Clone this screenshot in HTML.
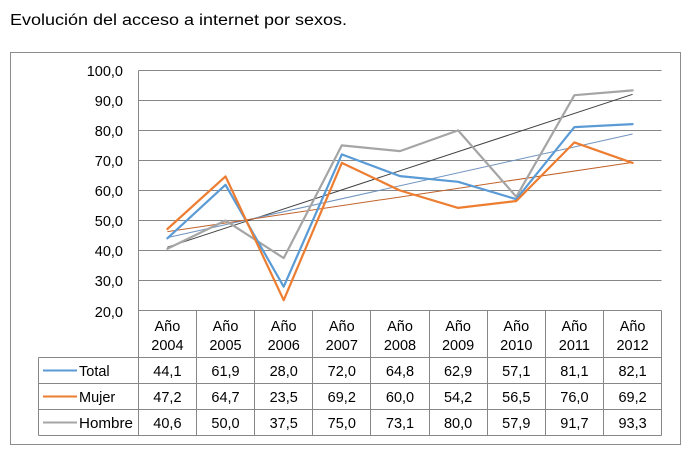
<!DOCTYPE html>
<html><head><meta charset="utf-8"><style>
html,body{margin:0;padding:0;background:#fff;}
svg{display:block;}
text{font-family:"Liberation Sans",sans-serif;fill:#000;}
</style></head><body>
<svg width="689" height="459" viewBox="0 0 689 459" xmlns="http://www.w3.org/2000/svg">
<rect x="0" y="0" width="689" height="459" fill="#fff"/>
<text x="10" y="25" font-size="15.5" textLength="337" lengthAdjust="spacingAndGlyphs">Evolución del acceso a internet por sexos.</text>
<rect x="10.5" y="52.5" width="670" height="392" fill="none" stroke="#8c8c8c" stroke-width="1"/>
<g stroke="#878787" stroke-width="1" fill="none">
<line x1="138.5" y1="70.5" x2="661.5" y2="70.5"/>
<line x1="138.5" y1="100.5" x2="661.5" y2="100.5"/>
<line x1="138.5" y1="130.5" x2="661.5" y2="130.5"/>
<line x1="138.5" y1="160.5" x2="661.5" y2="160.5"/>
<line x1="138.5" y1="190.5" x2="661.5" y2="190.5"/>
<line x1="138.5" y1="220.5" x2="661.5" y2="220.5"/>
<line x1="138.5" y1="250.5" x2="661.5" y2="250.5"/>
<line x1="138.5" y1="280.5" x2="661.5" y2="280.5"/>
<line x1="138.5" y1="310.5" x2="661.5" y2="310.5"/>
<line x1="138.5" y1="70.5" x2="138.5" y2="435.5"/>
<line x1="38.5" y1="357.5" x2="661.5" y2="357.5"/>
<line x1="38.5" y1="383.5" x2="661.5" y2="383.5"/>
<line x1="38.5" y1="409.5" x2="661.5" y2="409.5"/>
<line x1="38.5" y1="435.5" x2="661.5" y2="435.5"/>
<line x1="38.5" y1="357.5" x2="38.5" y2="435.5"/>
<line x1="196.5" y1="310.5" x2="196.5" y2="435.5"/>
<line x1="254.5" y1="310.5" x2="254.5" y2="435.5"/>
<line x1="312.5" y1="310.5" x2="312.5" y2="435.5"/>
<line x1="370.5" y1="310.5" x2="370.5" y2="435.5"/>
<line x1="429.5" y1="310.5" x2="429.5" y2="435.5"/>
<line x1="487.5" y1="310.5" x2="487.5" y2="435.5"/>
<line x1="545.5" y1="310.5" x2="545.5" y2="435.5"/>
<line x1="603.5" y1="310.5" x2="603.5" y2="435.5"/>
<line x1="661.5" y1="310.5" x2="661.5" y2="435.5"/>
</g>
<g font-size="14.5" text-anchor="end">
<text x="123" y="76">100,0</text>
<text x="123" y="106">90,0</text>
<text x="123" y="136">80,0</text>
<text x="123" y="166">70,0</text>
<text x="123" y="196">60,0</text>
<text x="123" y="226">50,0</text>
<text x="123" y="256">40,0</text>
<text x="123" y="286">30,0</text>
<text x="123" y="317">20,0</text>
</g>
<!-- trendlines -->
<line x1="167.4" y1="247.2" x2="632.6" y2="94.3" stroke="#404040" stroke-width="1"/>
<line x1="167.4" y1="237.6" x2="632.6" y2="134.0" stroke="#6f93bd" stroke-width="1"/>
<line x1="167.4" y1="231.6" x2="632.6" y2="162.4" stroke="#c0622a" stroke-width="1"/>
<!-- series -->
<g fill="none" stroke-width="2.2" stroke-linejoin="round" stroke-linecap="round">
<polyline stroke="#a5a5a5" points="167.4,248.8 225.5,220.55 283.7,258.1 341.8,145.4 400,151.1 458.1,130.4 516.3,196.8 574.4,95.2 632.6,90.4"/>
<polyline stroke="#5b9bd5" points="167.4,238.3 225.5,184.8 283.7,286.7 341.8,154.4 400,176.1 458.1,181.8 516.3,199.2 574.4,127.1 632.6,124.1"/>
<polyline stroke="#ed7d31" points="167.4,229 225.5,176.4 283.7,300.2 341.8,162.9 400,190.5 458.1,207.9 516.3,201 574.4,142.4 632.6,162.9"/>
</g>
<!-- table header -->
<g font-size="14.5" text-anchor="middle">
<text x="167.4" y="331">Año</text><text x="167.4" y="350">2004</text>
<text x="225.5" y="331">Año</text><text x="225.5" y="350">2005</text>
<text x="283.7" y="331">Año</text><text x="283.7" y="350">2006</text>
<text x="341.8" y="331">Año</text><text x="341.8" y="350">2007</text>
<text x="400" y="331">Año</text><text x="400" y="350">2008</text>
<text x="458.1" y="331">Año</text><text x="458.1" y="350">2009</text>
<text x="516.3" y="331">Año</text><text x="516.3" y="350">2010</text>
<text x="574.4" y="331">Año</text><text x="574.4" y="350">2011</text>
<text x="632.6" y="331">Año</text><text x="632.6" y="350">2012</text>
<!-- Total -->
<text x="167.4" y="376">44,1</text><text x="225.5" y="376">61,9</text><text x="283.7" y="376">28,0</text><text x="341.8" y="376">72,0</text><text x="400" y="376">64,8</text><text x="458.1" y="376">62,9</text><text x="516.3" y="376">57,1</text><text x="574.4" y="376">81,1</text><text x="632.6" y="376">82,1</text>
<!-- Mujer -->
<text x="167.4" y="402">47,2</text><text x="225.5" y="402">64,7</text><text x="283.7" y="402">23,5</text><text x="341.8" y="402">69,2</text><text x="400" y="402">60,0</text><text x="458.1" y="402">54,2</text><text x="516.3" y="402">56,5</text><text x="574.4" y="402">76,0</text><text x="632.6" y="402">69,2</text>
<!-- Hombre -->
<text x="167.4" y="428">40,6</text><text x="225.5" y="428">50,0</text><text x="283.7" y="428">37,5</text><text x="341.8" y="428">75,0</text><text x="400" y="428">73,1</text><text x="458.1" y="428">80,0</text><text x="516.3" y="428">57,9</text><text x="574.4" y="428">91,7</text><text x="632.6" y="428">93,3</text>
</g>
<!-- legend keys -->
<line x1="43" y1="370.5" x2="77" y2="370.5" stroke="#5b9bd5" stroke-width="2"/>
<line x1="43" y1="396.5" x2="77" y2="396.5" stroke="#ed7d31" stroke-width="2"/>
<line x1="43" y1="422.5" x2="77" y2="422.5" stroke="#a5a5a5" stroke-width="2"/>
<g font-size="14.5">
<text x="79" y="376">Total</text>
<text x="79" y="402">Mujer</text>
<text x="79" y="428" textLength="54" lengthAdjust="spacingAndGlyphs">Hombre</text>
</g>
</svg>
</body></html>
